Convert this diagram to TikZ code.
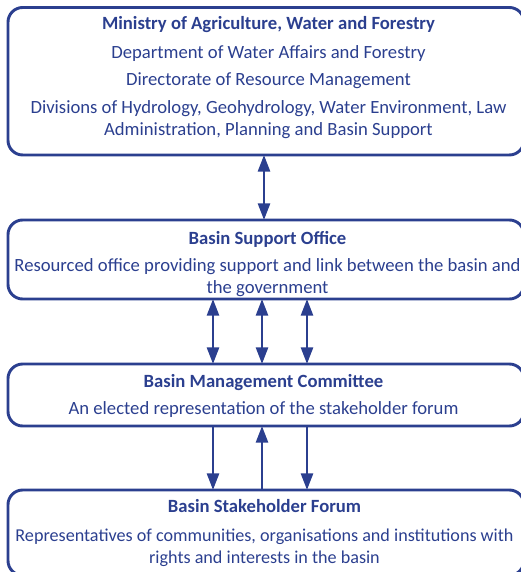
\documentclass[tikz,border=0pt]{standalone}
\usepackage{fontspec}
\setmainfont{Carlito}
\usetikzlibrary{arrows.meta}
\definecolor{navy}{RGB}{43,63,143}
\begin{document}
\begin{tikzpicture}[x=0.75pt,y=-0.75pt,
  panel/.style={draw=navy, line width=2.2pt, rounded corners=11pt, outer sep=0pt,
    inner sep=0pt, anchor=north west, minimum width=387pt},
  label/.style={text=navy, inner sep=0pt, align=center, text height=10pt, text depth=3pt,
    font=\fontsize{14}{16.5}\selectfont},
  title/.style={label, font=\fontsize{14}{16.5}\selectfont\bfseries},
  link/.style={draw=navy, line width=2pt, -{Triangle[width=9pt,length=12.5pt]}},
  dlink/.style={draw=navy, line width=2pt, {Triangle[width=9pt,length=12.5pt]}-{Triangle[width=9pt,length=12.5pt]}}]
\useasboundingbox (0,0) rectangle (521,572);
\clip (0,0) rectangle (521,572);

% panels
\node[panel, minimum height=110.6pt] (ministry) at (8,7.5) {};
\node[panel, minimum height=59.25pt] (office) at (8,220) {};
\node[panel, minimum height=46.5pt] (committee) at (8,364) {};
\node[panel, minimum height=64pt] (forum) at (8,490) {};

% texts
\node[title] (t1) at (268.5,25) {Ministry of Agriculture, Water and Forestry};
\node[label] (t1a) at (268.5,54) {Department of Water Affairs and Forestry};
\node[label] (t1b) at (268.5,81) {Directorate of Resource Management};
\node[label, text height=, text depth=] (t1c) at (268.5,120) {Divisions of Hydrology, Geohydrology, Water Environment, Law\\Administration, Planning and Basin Support};

\node[title] (t2) at (267.5,240) {Basin Support Office};
\node[label, text height=, text depth=] (t2a) at (267.5,278) {Resourced office providing support and link between the basin and\\the government};

\node[title] (t3) at (263.5,382.5) {Basin Management Committee};
\node[label] (t3a) at (263.5,409.5) {An elected representation of the stakeholder forum};

\node[title] (t4) at (264.5,508) {Basin Stakeholder Forum};
\node[label, text height=, text depth=, font=\fontsize{13.6}{16.5}\selectfont] (t4a) at (264.5,548) {Representatives of communities, organisations and institutions with\\rights and interests in the basin};

% connector columns
\coordinate (c0) at (264,0);
\coordinate (c1) at (213,0);
\coordinate (c2) at (262,0);
\coordinate (c3) at (307,0);

\draw[dlink] (c0 |- ministry.south) -- (c0 |- office.north);

\draw[dlink] (c1 |- office.south) -- (c1 |- committee.north);
\draw[dlink] (c2 |- office.south) -- (c2 |- committee.north);
\draw[dlink] (c3 |- office.south) -- (c3 |- committee.north);

\draw[link] (c1 |- committee.south) -- (c1 |- forum.north);
\draw[link] (c2 |- forum.north) -- (c2 |- committee.south);
\draw[link] (c3 |- committee.south) -- (c3 |- forum.north);
\end{tikzpicture}
\end{document}
